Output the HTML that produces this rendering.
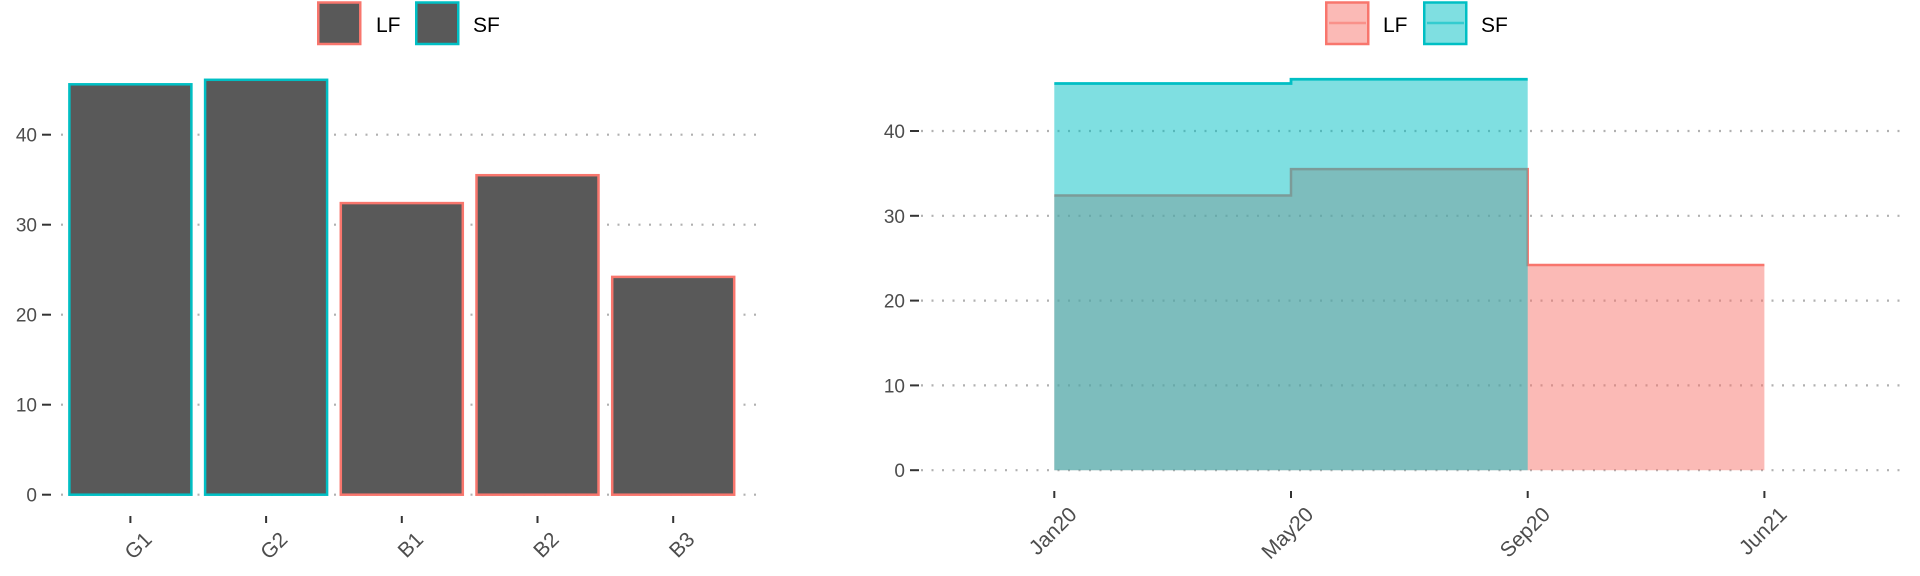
<!DOCTYPE html>
<html><head><meta charset="utf-8"><style>
html,body{margin:0;padding:0;background:#fff;width:1920px;height:576px;overflow:hidden}
svg{display:block;font-family:"Liberation Sans",sans-serif}
</style></head><body>
<svg id="c" width="1920" height="576" viewBox="0 0 1920 576" xmlns="http://www.w3.org/2000/svg"></svg>
<script>
const barCats = ["G1","G2","B1","B2","B3"];
const barVals = [45.6, 46.1, 32.4, 35.5, 24.2];
const barGroup = ["SF","SF","LF","LF","LF"];
const yTicks = [0,10,20,30,40];
const stepCats = ["Jan20","May20","Sep20","Jun21"];
const lfVals = [32.4, 35.5, 24.2, 24.2];
const sfVals = [45.6, 46.1, 0, 0];
const sfEnd = 2;

const NS="http://www.w3.org/2000/svg";
const svg=document.getElementById('c');
const col={LF:"#F8766D",SF:"#00BFC4"};
function mk(tag,attrs,parent){const e=document.createElementNS(NS,tag);for(const k in attrs)e.setAttribute(k,attrs[k]);(parent||svg).appendChild(e);return e;}
const gridStyle={stroke:"#b0b0b0","stroke-width":2.2,"stroke-dasharray":"2 8.5"};

// ---- Left bar chart ----
const L={y0:494.7,ppu:9.0,x0:130.4,step:135.7,bw:122,gx1:61,gx2:756};
const ly=v=>L.y0-v*L.ppu, lx=i=>L.x0+i*L.step;
const gL=mk('g',{});


yTicks.forEach(t=>{
  const g=mk('line',Object.assign({x1:L.gx1,x2:L.gx2,y1:ly(t),y2:ly(t)},gridStyle),gL);
  
  
  const tk=mk('line',{x1:42,x2:51,y1:ly(t),y2:ly(t),stroke:"#333","stroke-width":2},gL);
  
  
  const tx=mk('text',{x:37,y:ly(t)+7,"text-anchor":"end","font-size":19,fill:"#4d4d4d"},gL);
  tx.textContent=t;
  
  
});
barCats.forEach((c,i)=>{
  const r=mk('rect',{x:lx(i)-L.bw/2,y:ly(barVals[i]),width:L.bw,height:barVals[i]*L.ppu,fill:"#595959",stroke:col[barGroup[i]],"stroke-width":2.5},gL);
  
  
  const tk=mk('line',{x1:lx(i),x2:lx(i),y1:516,y2:523,stroke:"#333","stroke-width":2},gL);
  
  
  const tx=mk('text',{transform:`translate(${lx(i)+12},${530}) rotate(-45)`,"text-anchor":"end","font-size":21,fill:"#4d4d4d",dy:"0.72em"},gL);
  tx.textContent=c;
  
  
});
[["LF",317,376],["SF",415,473]].forEach(([k,bx,tx0])=>{
  const r=mk('rect',{x:bx+1.25,y:2.5,width:42,height:41.5,fill:"#595959",stroke:col[k],"stroke-width":2.5});
  
  
  const t=mk('text',{x:tx0,y:32,"font-size":21,fill:"#000"});
  t.textContent=k;
  
  
});

// ---- Right step area chart ----
const R={y0:470.2,ppu:8.48,x0:1054.3,step:236.7,gx1:921,gx2:1904};
const ry=v=>R.y0-v*R.ppu, rx=i=>R.x0+i*R.step;
const gR=mk('g',{});


yTicks.forEach(t=>{
  const g=mk('line',Object.assign({x1:R.gx1,x2:R.gx2,y1:ry(t),y2:ry(t)},gridStyle),gR);
  
  
  const tk=mk('line',{x1:910,x2:919,y1:ry(t),y2:ry(t),stroke:"#333","stroke-width":2},gR);
  
  
  const tx=mk('text',{x:905,y:ry(t)+7,"text-anchor":"end","font-size":19,fill:"#4d4d4d"},gR);
  tx.textContent=t;
  
  
});
function stepPath(vals,n){
  let d=`M${rx(0)},${ry(vals[0])}`;
  for(let i=0;i<n;i++){ d+=` L${rx(i+1)},${ry(vals[i])}`; if(i+1<n) d+=` L${rx(i+1)},${ry(vals[i+1])}`; }
  return d;
}
const nL=stepCats.length-1;
const lfLine=stepPath(lfVals,nL);
const lfA=mk('path',{d:lfLine+` L${rx(nL)},${ry(0)} L${rx(0)},${ry(0)} Z`,fill:col.LF,"fill-opacity":0.5},gR);


const lfL=mk('path',{d:lfLine,fill:"none",stroke:col.LF,"stroke-width":2.5},gR);


const sfLine=stepPath(sfVals,sfEnd);
const sfA=mk('path',{d:sfLine+` L${rx(sfEnd)},${ry(0)} L${rx(0)},${ry(0)} Z`,fill:col.SF,"fill-opacity":0.5},gR);


const sfL=mk('path',{d:sfLine,fill:"none",stroke:col.SF,"stroke-width":2.8},gR);


stepCats.forEach((c,i)=>{
  const tk=mk('line',{x1:rx(i),x2:rx(i),y1:491,y2:498,stroke:"#333","stroke-width":2},gR);
  
  
  const tx=mk('text',{transform:`translate(${rx(i)+13},${505}) rotate(-45)`,"text-anchor":"end","font-size":21,fill:"#4d4d4d",dy:"0.72em"},gR);
  tx.textContent=c;
  
  
});
[["LF",1325,1383],["SF",1423,1481]].forEach(([k,bx,tx0])=>{
  const r=mk('rect',{x:bx+1.25,y:2.5,width:42,height:41.5,fill:col[k],"fill-opacity":0.5,stroke:col[k],"stroke-width":2.5});
  
  
  const ln=mk('line',{x1:bx+4,x2:bx+41,y1:23,y2:23,stroke:col[k],"stroke-width":2.5,"stroke-opacity":0.6});
  
  
  const t=mk('text',{x:tx0,y:32,"font-size":21,fill:"#000"});
  t.textContent=k;
  
  
});
</script>
</body></html>
